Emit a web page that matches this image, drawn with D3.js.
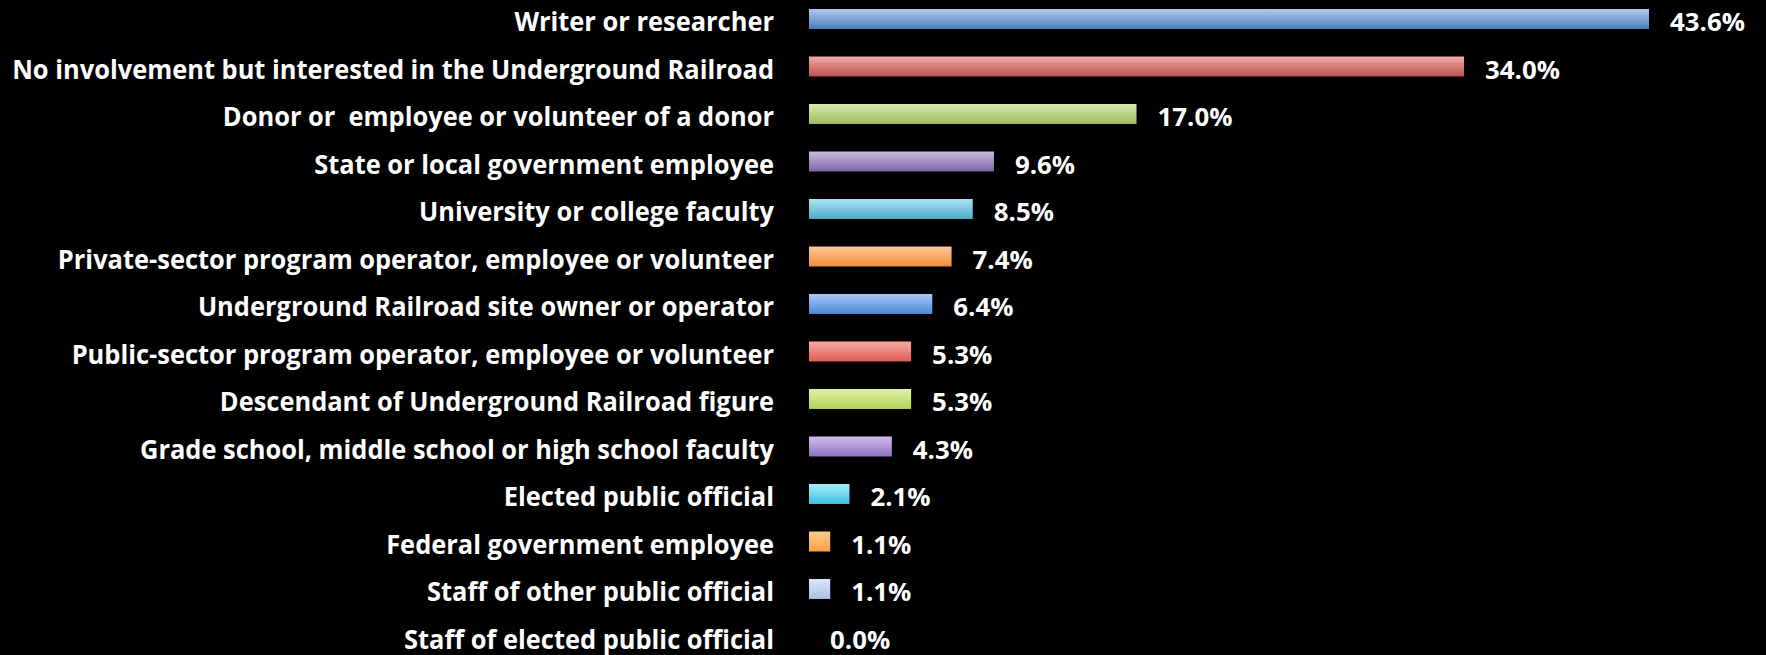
<!DOCTYPE html>
<html>
<head>
<meta charset="utf-8">
<script src="https://d3js.org/d3.v7.min.js"></script>
<style>
  body { margin: 0; background: #000; }
  text { font-family: "Open Sans", sans-serif; font-weight: bold; fill: #fff; white-space: pre; }
</style>
</head>
<body>
<script>
// survey categories and their shares (%)
var categories = [
  "Writer or researcher",
  "No involvement but interested in the Underground Railroad",
  "Donor or  employee or volunteer of a donor",
  "State or local government employee",
  "University or college faculty",
  "Private-sector program operator, employee or volunteer",
  "Underground Railroad site owner or operator",
  "Public-sector program operator, employee or volunteer",
  "Descendant of Underground Railroad figure",
  "Grade school, middle school or high school faculty",
  "Elected public official",
  "Federal government employee",
  "Staff of other public official",
  "Staff of elected public official"
];
var values = [43.6, 34.0, 17.0, 9.6, 8.5, 7.4, 6.4, 5.3, 5.3, 4.3, 2.1, 1.1, 1.1, 0.0];

// gradient top / bottom colours, one per bar
var palette = [
  ["#b0c9f1", "#4a7ebb"], ["#f2aba9", "#c0504d"], ["#d9eab3", "#9bbb59"],
  ["#cbbce2", "#8064a2"], ["#ace4f4", "#4bacc6"], ["#fdc898", "#ee8f3c"],
  ["#abcaf8", "#4a88d6"], ["#f9aaa3", "#dc5c54"], ["#e1f3a6", "#b2d257"],
  ["#d4bdf2", "#8f70bf"], ["#a6eefc", "#3fc0df"], ["#ffca92", "#f9a040"],
  ["#dbe6fc", "#aabfe6"], ["#dbe6fc", "#aabfe6"]
];

var width = 1766, height = 655;
var x0 = 809;
var labelRight = 774;

var svg = d3.select("body").append("svg")
    .attr("width", width)
    .attr("height", height);

var defs = svg.append("defs");
palette.forEach(function(c, i) {
  var g = defs.append("linearGradient")
      .attr("id", "grad" + i)
      .attr("x1", 0).attr("y1", 0).attr("x2", 0).attr("y2", 1);
  g.append("stop").attr("offset", "0%").attr("stop-color", c[0]);
  g.append("stop").attr("offset", "100%").attr("stop-color", c[1]);
});

var xScale = d3.scaleLinear()
    .domain([0, 43.6])
    .range([x0, 1649]);

var step = 47.5;
var yScale = d3.scaleBand()
    .domain(categories)
    .range([19 - step / 2, 19 - step / 2 + step * categories.length])
    .paddingInner(0.58)
    .paddingOuter(0.29);

function mid(c) { return yScale(c) + yScale.bandwidth() / 2; }

svg.selectAll("rect.bar")
    .data(values)
    .enter()
    .append("rect")
    .attr("class", "bar")
    .attr("x", xScale(0))
    .attr("y", function(d, i) { return yScale(categories[i]); })
    .attr("width", function(d) { return xScale(d) - xScale(0); })
    .attr("height", yScale.bandwidth())
    .attr("fill", function(d, i) { return "url(#grad" + i + ")"; });

// category labels (condensed a little so the longest one is ~762px wide, like the original)
var cats = svg.selectAll("text.cat")
    .data(categories)
    .enter()
    .append("text")
    .attr("class", "cat")
    .attr("text-anchor", "end")
    .style("font-size", "26px")
    .text(function(d) { return d; });

var longest = d3.max(cats.nodes(), function(n) { return n.getComputedTextLength(); });
var sx = 762 / longest;
cats.attr("transform", function(d) {
  return "translate(" + labelRight + "," + (mid(d) + 12) + ") scale(" + sx + ",1)";
});

// value labels
var vals = svg.selectAll("text.val")
    .data(values)
    .enter()
    .append("text")
    .attr("class", "val")
    .style("font-size", "25px")
    .text(function(d) { return d.toFixed(1) + "%"; });

var vx = 75 / vals.node().getComputedTextLength();
vals.attr("transform", function(d, i) {
  return "translate(" + (xScale(d) + 21) + "," + (mid(categories[i]) + 12) + ") scale(" + vx + ",1)";
});
</script>
</body>
</html>
